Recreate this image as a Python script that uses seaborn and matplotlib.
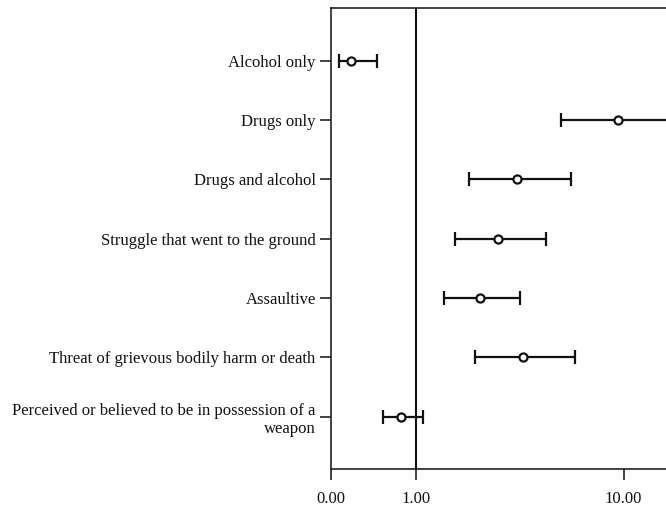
import matplotlib.pyplot as plt
import pandas as pd
import numpy as np
import seaborn as sns

# odds ratios with 95% CI
labels = ['Alcohol only', 'Drugs only', 'Drugs and alcohol',
          'Struggle that went to the ground', 'Assaultive',
          'Threat of grievous bodily harm or death',
          'Perceived or believed to be in possession of a\nweapon']
odds = [0.49, 9.36, 3.07, 2.49, 2.03, 3.27, 0.85]
lower = [0.43, 4.98, 1.81, 1.55, 1.37, 1.93, 0.70]
upper = [0.65, 20.0, 5.56, 4.26, 3.17, 5.85, 1.08]
xticks = [0.392, 1.0, 10.0]
xticklabels = ['0.00', '1.00', '10.00']

df = pd.DataFrame({'label': labels, 'odds': odds, 'lower': lower, 'upper': upper})
df['pos'] = np.arange(len(df))

sns.set_style('white')
plt.rcParams['font.family'] = ['Liberation Serif', 'DejaVu Serif']

fig = plt.figure(figsize=(6.66, 5.08), dpi=100)
ax = fig.add_axes([331 / 666, 39 / 508, 1 - 331 / 666, 461 / 508])

ax.axvline(1.0, color='#111111', lw=1.5, zorder=1)
ax.errorbar(df['odds'], df['pos'],
            xerr=[df['odds'] - df['lower'], df['upper'] - df['odds']],
            fmt='none', ecolor='#111111', elinewidth=1.6, capsize=5, capthick=1.6, zorder=2)
sns.scatterplot(data=df, x='odds', y='pos', ax=ax, marker='o', s=34,
                facecolor='white', edgecolor='#111111', linewidth=1.6, zorder=3)

ax.set_xscale('log')
ax.set_xlim(0.392, 16.0)
ax.set_ylim(6.88, -0.89)
ax.set_xticks(xticks)
ax.set_xticklabels(xticklabels)
ax.minorticks_off()
ax.set_yticks(df['pos'])
ax.set_yticklabels(df['label'], ha='right', multialignment='right', linespacing=1.15)
ax.set_xlabel('')
ax.set_ylabel('')

ax.tick_params(axis='both', direction='out', length=8, width=1.2, color='#222222',
               labelsize=12, labelcolor='#111111', pad=6)
ax.tick_params(axis='x', bottom=True, pad=8)
ax.tick_params(axis='y', left=True, pad=3)
for side in ['left', 'top', 'bottom']:
    ax.spines[side].set_visible(True)
    ax.spines[side].set_color('#222222')
    ax.spines[side].set_linewidth(1.2)
ax.spines['right'].set_visible(False)

fig.savefig('out.png', dpi=100)
